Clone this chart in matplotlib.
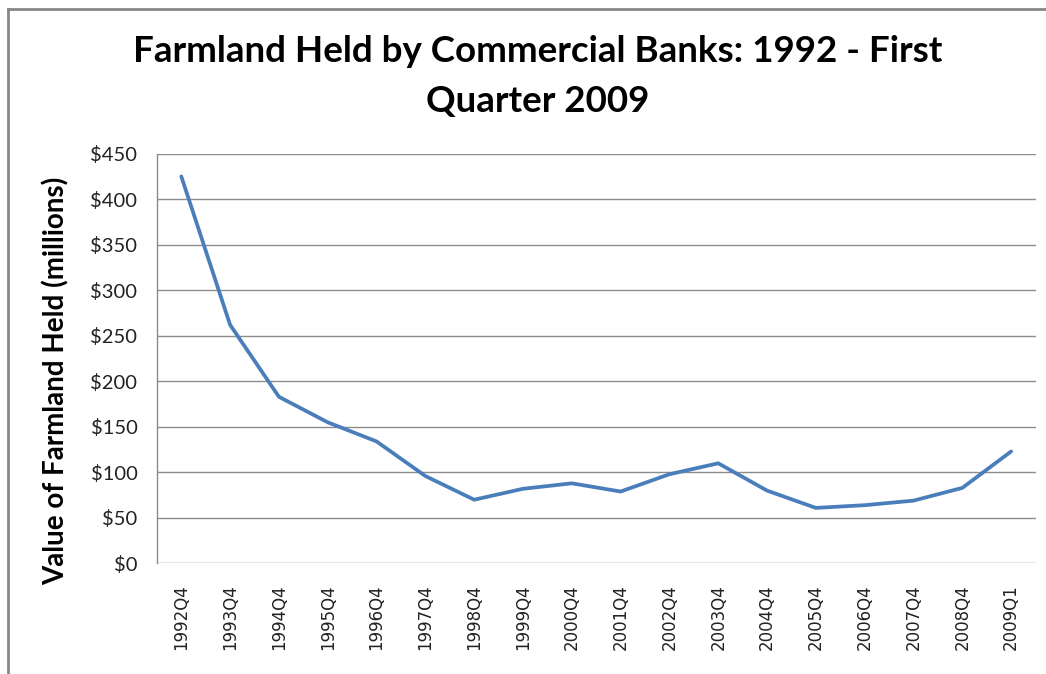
import matplotlib
matplotlib.use("Agg")
import matplotlib.pyplot as plt
from matplotlib.lines import Line2D
from matplotlib.ticker import FuncFormatter, MultipleLocator

quarters = ["1992Q4", "1993Q4", "1994Q4", "1995Q4", "1996Q4", "1997Q4",
            "1998Q4", "1999Q4", "2000Q4", "2001Q4", "2002Q4", "2003Q4",
            "2004Q4", "2005Q4", "2006Q4", "2007Q4", "2008Q4", "2009Q1"]
held = [425, 262, 183, 155, 134, 96, 70, 82, 88, 79, 98, 110,
        80, 61, 64, 69, 83, 123]

fig = plt.figure(figsize=(10.46, 6.74), dpi=100)
ax = fig.add_axes([0.150, 0.164, 0.840, 0.608])

x = list(range(len(quarters)))
ax.plot(x, held, color="#4a7ebb", linewidth=2.7, solid_capstyle="round",
        solid_joinstyle="round", zorder=3)

ax.set_xlim(-0.5, len(quarters) - 0.5)
ax.set_ylim(0, 450)
ax.yaxis.set_major_locator(MultipleLocator(50))
ax.yaxis.set_major_formatter(FuncFormatter(lambda v, p: "${:d}".format(int(v))))
ax.grid(axis="y", color="#8c8c8c", linewidth=1.0)
ax.set_axisbelow(True)

for side in ["top", "right", "bottom"]:
    ax.spines[side].set_visible(False)
ax.spines["left"].set_color("#8c8c8c")
ax.spines["left"].set_linewidth(1.0)

ax.set_xticks(x)
ax.set_xticklabels(quarters, rotation=90, fontsize=12, family="DejaVu Sans",
                   color="#222222")
ax.tick_params(axis="x", length=0, pad=15)
ax.tick_params(axis="y", length=0, pad=14, labelsize=14.5, labelcolor="#222222")
for lab in ax.get_yticklabels():
    lab.set_family("Lato")

ax.set_ylabel("Value of Farmland Held (millions)", fontsize=20, fontweight="bold",
              family="Lato", labelpad=14)
ax.yaxis.set_label_coords(-0.099, 0.446)

fig.text(0.514, 0.923, "Farmland Held by Commercial Banks: 1992 - First",
         ha="center", va="center", fontsize=26.5, fontweight="bold", family="Lato")
fig.text(0.514, 0.850, "Quarter 2009", ha="center", va="center",
         fontsize=26.5, fontweight="bold", family="Lato")

# chart area border (top and left edges)
fig.add_artist(Line2D([0.0072, 1.0], [0.9866, 0.9866], transform=fig.transFigure,
                      color="#878787", linewidth=2.0))
fig.add_artist(Line2D([0.0072, 0.0072], [0.0, 0.9866], transform=fig.transFigure,
                      color="#878787", linewidth=2.0))

fig.savefig("out.png", dpi=100)
